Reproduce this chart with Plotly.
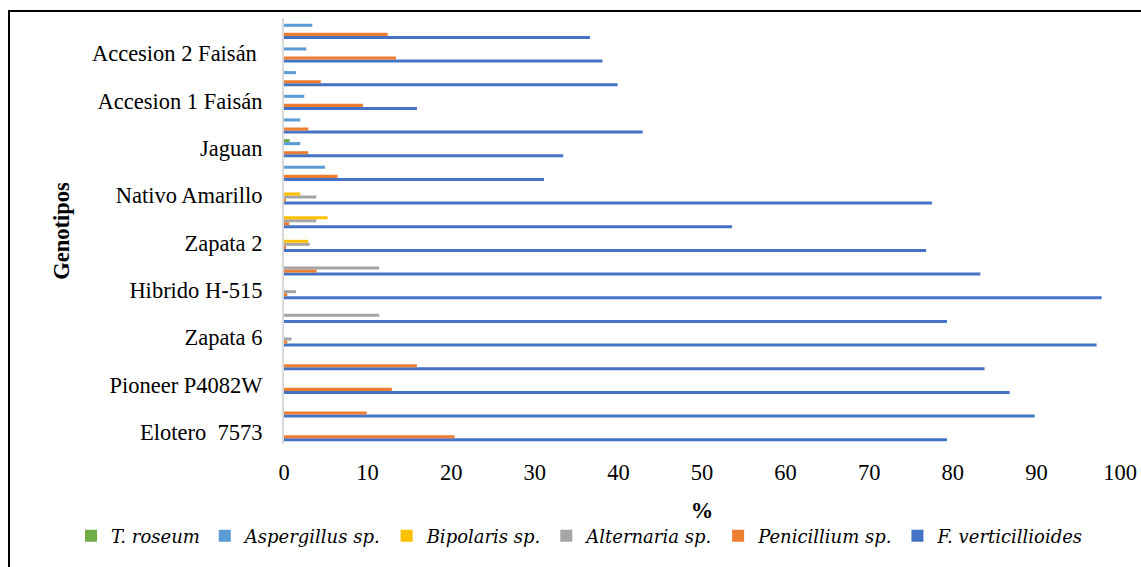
import plotly.graph_objects as go

# Genotype labels (one per pair of rows, bottom to top)
genotypes = [
    "Elotero \u00a07573",
    "Pioneer P4082W",
    "Zapata 6",
    "Hibrido H-515",
    "Zapata 2",
    "Nativo Amarillo",
    "Jaguan",
    "Accesion 1 Faisán",
    "Accesion 2 Faisán\u00a0",
]

# 18 sample rows, bottom to top
row_index = list(range(18))

# Incidence (%) per fungus for each row
f_verticillioides = [79.3, 89.8, 86.8, 83.8, 97.2, 79.3, 97.8, 83.3, 76.8,
                     53.6, 77.5, 31.1, 33.4, 42.9, 15.9, 39.9, 38.1, 36.6]
penicillium = [20.4, 9.9, 12.9, 15.9, 0.4, 0.0, 0.4, 3.9, 0.16,
               0.64, 0.16, 6.4, 2.9, 2.9, 9.45, 4.4, 13.4, 12.4]
alternaria = [0.0, 0.0, 0.0, 0.0, 0.9, 11.4, 1.44, 11.4, 3.07,
              3.87, 3.87, 0.0, 0.0, 0.0, 0.0, 0.0, 0.0, 0.0]
bipolaris = [0.0, 0.0, 0.0, 0.0, 0.0, 0.0, 0.0, 0.0, 2.9,
             5.2, 1.95, 0.0, 0.0, 0.0, 0.0, 0.0, 0.0, 0.0]
aspergillus = [0.0, 0.0, 0.0, 0.0, 0.0, 0.0, 0.0, 0.0, 0.0,
               0.0, 0.0, 4.9, 1.95, 1.95, 2.43, 1.44, 2.67, 3.39]
t_roseum = [0.0, 0.0, 0.0, 0.0, 0.0, 0.0, 0.0, 0.0, 0.0,
            0.0, 0.0, 0.0, 0.68, 0.0, 0.0, 0.0, 0.0, 0.0]

series = [
    ("F. verticillioides", f_verticillioides, "#4472C4"),
    ("Penicillium sp.", penicillium, "#ED7D31"),
    ("Alternaria sp.", alternaria, "#A5A5A5"),
    ("Bipolaris sp.", bipolaris, "#FFC000"),
    ("Aspergillus sp.", aspergillus, "#5B9BD5"),
    ("T. roseum", t_roseum, "#70AD47"),
]

FONT = "Liberation Serif, Times New Roman, serif"
LEG_FONT = "DejaVu Serif"
FS = 22.5

fig = go.Figure()
for name, vals, color in series:
    fig.add_trace(go.Bar(
        x=vals, y=row_index, orientation="h", name=name,
        marker=dict(color=color, line=dict(width=0)),
    ))

# plot area geometry (pixels)
W, H = 1141, 567
L, R, T, B = 284, 21, 18, 123
pw, ph = W - L - R, H - T - B

def px_x(x):
    return (x - L) / pw

def px_y(y):
    return (H - B - y) / ph

fig.update_layout(
    width=W, height=H, autosize=False,
    margin=dict(l=L, r=R, t=T, b=B, pad=0, autoexpand=False),
    paper_bgcolor="white", plot_bgcolor="white",
    barmode="group", bargap=0.232, bargroupgap=0,
    font=dict(family=FONT, size=FS, color="black"),
    legend=dict(
        orientation="h", traceorder="reversed",
        x=px_x(71), xanchor="left",
        y=px_y(536), yanchor="middle",
        font=dict(family=LEG_FONT, size=18, color="black", style="italic"),
        bgcolor="rgba(0,0,0,0)",
    ),
    xaxis=dict(
        range=[0, 100], dtick=10, tick0=0,
        showgrid=False, zeroline=False, showline=False, ticks="",
        tickfont=dict(family=FONT, size=FS, color="black"),
        ticklabelstandoff=12,
        title=dict(text="<b>%</b>", font=dict(family=FONT, size=FS, color="black"),
                   standoff=18),
    ),
    yaxis=dict(
        range=[-0.5, 17.5],
        tickmode="array",
        tickvals=row_index[::2],
        ticktext=genotypes,
        showgrid=False, zeroline=False,
        showline=True, linecolor="#D9D9D9", linewidth=2,
        ticks="",
        ticklabelstandoff=15,
        tickfont=dict(family=FONT, size=FS, color="black"),
        title=dict(text="<b>Genotipos</b>", font=dict(family=FONT, size=FS, color="black"),
                   standoff=16),
    ),
    shapes=[dict(
        type="rect", xref="paper", yref="paper",
        x0=px_x(9), x1=px_x(1160), y0=px_y(590), y1=px_y(11),
        line=dict(color="black", width=2), fillcolor="rgba(0,0,0,0)",
        layer="above",
    )],
)

fig.write_html("out.html", config={"displayModeBar": False})
